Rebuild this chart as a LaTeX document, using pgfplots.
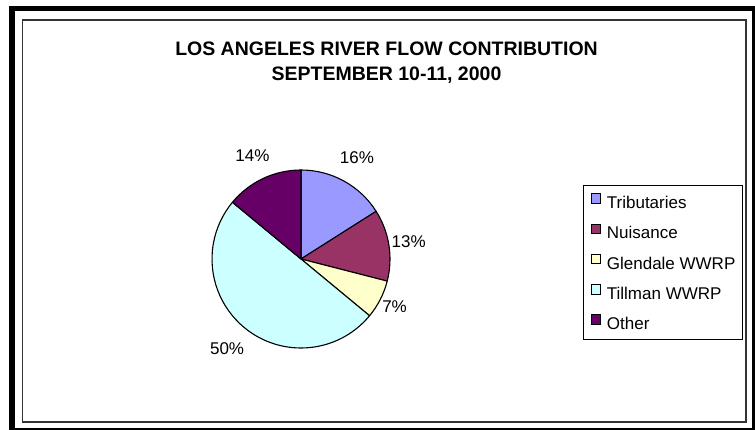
\documentclass[border=0pt]{standalone}
\usepackage{pgfplots}
\pgfplotsset{compat=1.18}
\usepackage{pgfplotstable}
\usepackage{fontspec}
\setmainfont{Liberation Sans}
\definecolor{cTrib}{HTML}{9999FF}
\definecolor{cNuis}{HTML}{993366}
\definecolor{cGlen}{HTML}{FFFFCC}
\definecolor{cTill}{HTML}{CCFFFF}
\definecolor{cOth}{HTML}{660066}

% share of flow (%), slice colour, label distance from pie centre (px)
\pgfplotstableread[col sep=comma]{
name,value,color,labdist
Tributaries,16,cTrib,116
Nuisance,13,cNuis,109
Glendale WWRP,7,cGlen,105
Tillman WWRP,50,cTill,116
Other,14,cOth,114
}\piedata

\def\pcx{301}\def\pcy{259}\def\pr{89}

\begin{document}
\begin{tikzpicture}
\gdef\cumangle{90}
\pgfplotsforeachungrouped \i in {0,...,4}{%
  \pgfplotstablegetelem{\i}{value}\of\piedata\let\sv\pgfplotsretval
  \pgfplotstablegetelem{\i}{labdist}\of\piedata\let\sd\pgfplotsretval
  \pgfplotstablegetelem{\i}{color}\of\piedata\let\sc\pgfplotsretval
  \pgfplotstablegetelem{\i}{name}\of\piedata\let\sn\pgfplotsretval
  \pgfmathsetmacro\endangle{\cumangle-3.6*\sv}%
  \pgfmathsetmacro\midangle{\cumangle-1.8*\sv}%
  \expandafter\xdef\csname pgfk@/pie/sa\i\endcsname{\cumangle}%
  \expandafter\xdef\csname pgfk@/pie/ea\i\endcsname{\endangle}%
  \expandafter\xdef\csname pgfk@/pie/ma\i\endcsname{\midangle}%
  \expandafter\xdef\csname pgfk@/pie/ld\i\endcsname{\sd}%
  \expandafter\xdef\csname pgfk@/pie/pc\i\endcsname{\sv}%
  \expandafter\xdef\csname pgfk@/pie/nm\i\endcsname{\sn}%
  \edef\tmp{\noexpand\colorlet{slice\i}{\sc}}\tmp
  \xdef\cumangle{\endangle}%
}
\begin{axis}[
  x=1pt, y=1pt, y dir=reverse,
  xmin=0, xmax=755, ymin=0, ymax=430,
  hide axis,
  legend style={at={(axis cs:583,185)}, anchor=north west, draw=black, line width=1pt,
    font=\fontsize{17}{20}\selectfont, inner xsep=7pt, inner ysep=8pt, row sep=13pt,
    nodes={inner xsep=0pt, inner ysep=0pt, text height=12.5pt, text depth=2pt},
    /tikz/every odd column/.style={column sep=6pt}},
  legend cell align=left,
  legend image code/.code={\draw[#1, line width=0.9pt] (0pt,0pt) rectangle (9.5pt,9.5pt);},
]
\pgfplotsinvokeforeach{0,...,4}{
  \addlegendimage{fill=slice#1, draw=black}
  \addlegendentryexpanded{\pgfkeysvalueof{/pie/nm#1}}
}
% frame
\draw[line width=5.5pt, black] (axis cs:12,8.5) rectangle (axis cs:754.5,430.5);
\draw[line width=1.5pt, black!80] (axis cs:22.5,20) rectangle (axis cs:746,422);
% pie
\pgfplotsinvokeforeach{0,...,4}{
  \filldraw[fill=slice#1, draw=black, line width=1.1pt, line join=round]
    (axis cs:\pcx,\pcy) -- ++(\pgfkeysvalueof{/pie/sa#1}:\pr pt)
    arc[start angle=\pgfkeysvalueof{/pie/sa#1}, end angle=\pgfkeysvalueof{/pie/ea#1}, radius=\pr pt] -- cycle;
  \node[font=\fontsize{17}{20}\selectfont, inner sep=0pt]
    at ([shift={(\pgfkeysvalueof{/pie/ma#1}:\pgfkeysvalueof{/pie/ld#1}pt)}]axis cs:\pcx,\pcy)
    {\pgfkeysvalueof{/pie/pc#1}\%};
}
% title
\node[font=\fontsize{19.5}{23}\selectfont\bfseries, anchor=base] at (axis cs:386.5,55.5) {LOS ANGELES RIVER FLOW CONTRIBUTION};
\node[font=\fontsize{19.5}{23}\selectfont\bfseries, anchor=base] at (axis cs:386.5,80.5) {SEPTEMBER 10-11, 2000};
\end{axis}
\pgfresetboundingbox
\path[use as bounding box] (current axis.south west) rectangle (current axis.north east);
\end{tikzpicture}
\end{document}
